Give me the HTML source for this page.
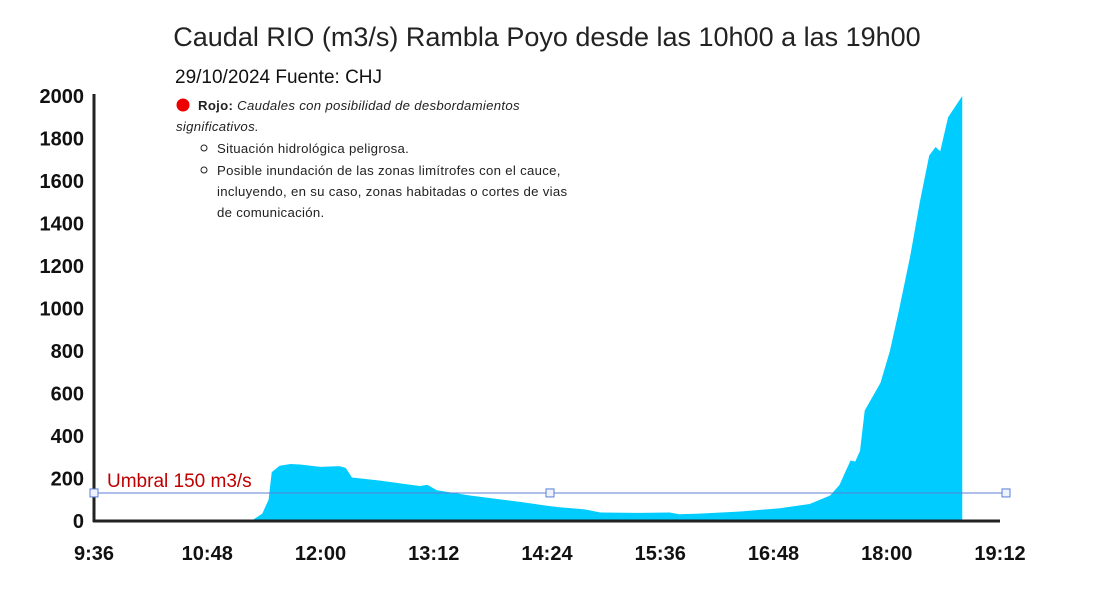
<!DOCTYPE html>
<html><head><meta charset="utf-8"><style>
body{margin:0;background:#fff;width:1100px;height:596px;overflow:hidden;font-family:"Liberation Sans",sans-serif}
</style></head><body>
<svg width="1100" height="596">
<text x="547" y="46" text-anchor="middle" font-size="27" fill="#222">Caudal RIO (m3/s) Rambla Poyo desde las 10h00 a las 19h00</text>
<text x="175" y="83" font-size="19" fill="#111">29/10/2024  Fuente: CHJ</text>
<g id="legend" font-size="13.2" fill="#222" letter-spacing="0.3">
<circle cx="183" cy="105" r="6.5" fill="#e00"/>
<text x="198" y="110"><tspan font-weight="bold">Rojo:</tspan> <tspan font-style="italic">Caudales con posibilidad de desbordamientos</tspan></text>
<text x="176" y="131" font-style="italic">significativos.</text>
<circle cx="204" cy="148" r="3" fill="none" stroke="#222"/>
<text x="217" y="153">Situación hidrológica peligrosa.</text>
<circle cx="204" cy="170" r="3" fill="none" stroke="#222"/>
<text x="217" y="175">Posible inundación de las zonas limítrofes con el cauce,</text>
<text x="217" y="196">incluyendo, en su caso, zonas habitadas o cortes de vias</text>
<text x="217" y="217">de comunicación.</text>
</g>
<g id="plot"></g>
</svg>
<script>
const times=[100,107,111,113,118,125,131,144,156,160,164,182,207,212,218,239,271,288,296,312,322,347,366,372,385,411,436,455,468,474,477,481,484,487,490,500,506,512,519,525,531,535,538,543,552];
const flows=[0,35,100,230,260,268,266,255,258,250,205,190,165,170,145,120,90,72,65,55,40,38,40,32,35,45,60,80,120,170,220,285,280,330,520,650,800,1000,1250,1500,1720,1760,1740,1900,2000];
const yTicks=[0,200,400,600,800,1000,1200,1400,1600,1800,2000];
const xTicks=[0,72,144,216,288,360,432,504,576];
const xLabels=["9:36","10:48","12:00","13:12","14:24","15:36","16:48","18:00","19:12"];
const threshold=[132];
const thresholdLabel="Umbral 150 m3/s";
const X=m=>94+m*906/576, Y=v=>521-v*425/2000;
const g=document.getElementById('plot'),NS='http://www.w3.org/2000/svg';
function el(t,a,txt){const e=document.createElementNS(NS,t);for(const k in a)e.setAttribute(k,a[k]);if(txt!=null)e.textContent=txt;g.appendChild(e);return e;}
let d='M'+X(times[0])+','+Y(0);
times.forEach((t,i)=>d+=' L'+X(t)+','+Y(flows[i]));
d+=' L'+X(times[times.length-1])+','+Y(0)+' Z';
const a=el('path',{d:d,fill:'#00ccff'});


yTicks.forEach(v=>{const t=el('text',{x:84,y:Y(v)+7,'text-anchor':'end','font-size':20,'font-weight':'bold',fill:'#111'},v);

});
xTicks.forEach((m,i)=>{const t=el('text',{x:X(m),y:560,'text-anchor':'middle','font-size':20,'font-weight':'bold',fill:'#111'},xLabels[i]);

});
const ya=el('line',{x1:94,y1:94,x2:94,y2:522,stroke:'#222','stroke-width':3});


const xa=el('line',{x1:93,y1:521,x2:1000,y2:521,stroke:'#222','stroke-width':3});


const ty=Y(threshold[0]);
const tl=el('line',{x1:94,y1:ty,x2:1006,y2:ty,stroke:'#5b7fd6','stroke-width':1});


[94,550,1006].forEach(x=>{const r=el('rect',{x:x-4,y:ty-4,width:8,height:8,fill:'#eef3ff',stroke:'#5b7fd6'});

});
const lb=el('text',{x:107,y:ty-6,'font-size':19,fill:'#c00000'},thresholdLabel);


</script>
</body></html>
